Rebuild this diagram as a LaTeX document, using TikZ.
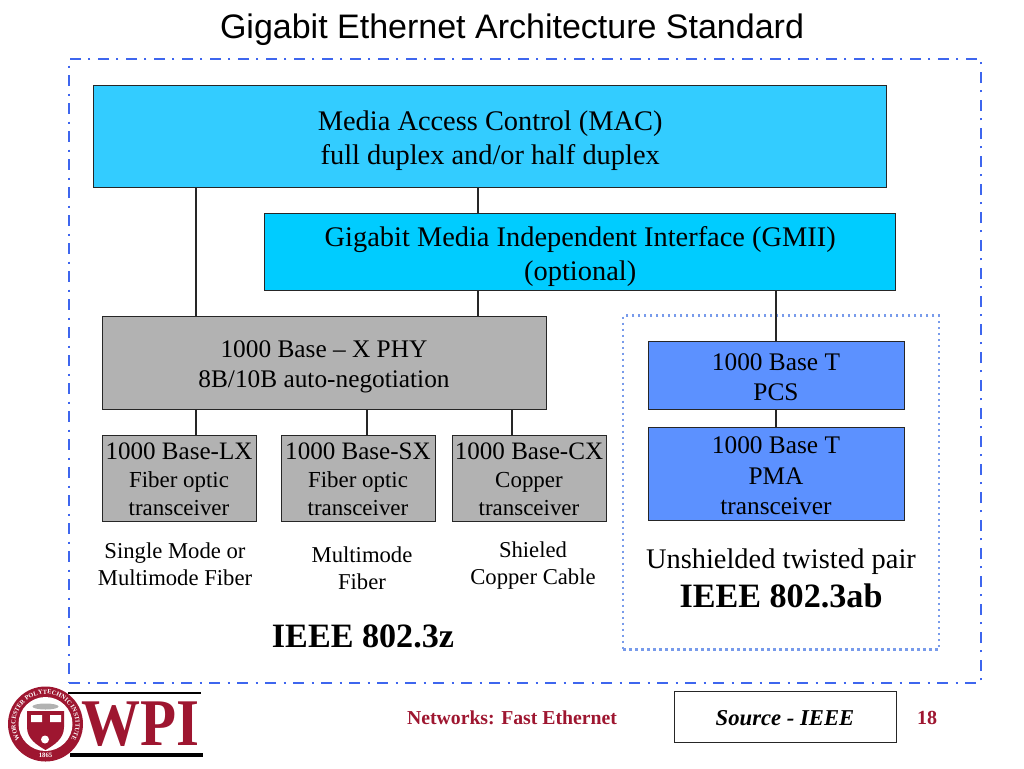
\documentclass[tikz,border=0pt]{standalone}
\usepackage{fontspec}
\setmainfont{Liberation Serif}
\newfontfamily\titlefont{Liberation Sans}
\usetikzlibrary{decorations.text}
\definecolor{macblue}{RGB}{51, 204, 255}
\definecolor{gmiiblue}{RGB}{0, 204, 255}
\definecolor{phygray}{RGB}{178, 178, 178}
\definecolor{tblue}{RGB}{92, 145, 255}
\definecolor{frameblue}{RGB}{62, 102, 238}
\definecolor{dotblue}{RGB}{120, 155, 235}
\definecolor{wpired}{RGB}{158, 22, 48}
\newcommand{\toppad}[1]{\rule{0pt}{#1pt}}
\newcommand{\subline}{\fontsize{17.2}{21}\selectfont}
\tikzset{
  block/.style={
    rectangle, draw=black!85, line width=0.75pt, align=center,
    inner sep=0pt, text=black, font=\fontsize{21.3}{25.5}\selectfont
  },
  macblock/.style={block, fill=macblue},
  gmiiblock/.style={block, fill=gmiiblue},
  phyblock/.style={block, fill=phygray},
  tblock/.style={block, fill=tblue, minimum width=192pt, font=\fontsize{19}{23}\selectfont},
  xcvr/.style={phyblock, minimum width=115.5pt, minimum height=64.5pt, font=\fontsize{18.8}{21}\selectfont},
  caption/.style={align=center, font=\fontsize{17}{20.3}\selectfont},
  ieee/.style={align=center, font=\fontsize{25.6}{30}\selectfont\bfseries},
  link/.style={draw=black!85, line width=1.6pt},
}

\begin{document}
\begin{tikzpicture}[x=0.75pt, y=-0.75pt]
  \useasboundingbox (0,0) rectangle (1024,768);

  % Title
  \node (title) at (512,30) {\titlefont\fontsize{25.5}{30}\selectfont Gigabit Ethernet Architecture Standard};

  % Frames
  \node[draw=frameblue, line width=2pt, dash pattern=on 8pt off 6pt on 2pt off 5pt,
    minimum width=684pt, minimum height=468pt] (outer) at (525,371) {};
  \node[draw=dotblue, line width=2.2pt, dash pattern=on 2pt off 2.5pt,
    minimum width=237pt, minimum height=250pt] (inner) at (781,482.5) {};

  % Nodes
  \node[macblock, minimum width=594.75pt, minimum height=76.5pt] (mac) at (490.2,136)
    {\toppad{22.5}Media Access Control (MAC)\\full duplex and/or half duplex};
  \node[gmiiblock, minimum width=473.25pt, minimum height=57.75pt] (gmii) at (580.2,251.5)
    {\toppad{22.5}Gigabit Media Independent Interface (GMII)\\(optional)};
  \node[phyblock, minimum width=333pt, minimum height=69.75pt, font=\fontsize{19}{23}\selectfont] (phy) at (324,362.5)
    {\toppad{19}1000 Base -- X PHY\\8B/10B auto-negotiation};

  \node[xcvr] (lx) at (179,478) {\toppad{14}1000 Base-LX\\{\subline Fiber optic}\\{\subline transceiver}};
  \node[xcvr] (sx) at (358,478) {\toppad{14}1000 Base-SX\\{\subline Fiber optic}\\{\subline transceiver}};
  \node[xcvr] (cx) at (529,478) {\toppad{14}1000 Base-CX\\{\subline Copper}\\{\subline transceiver}};

  \node[tblock, minimum height=51pt] (pcs) at (776,375) {\toppad{16}1000 Base T\\PCS};
  \node[tblock, minimum height=69.75pt] (pma) at (776,473.5) {\toppad{16}1000 Base T\\PMA\\transceiver};

  % Captions
  \node[caption] (lxcap) at (175,564) {Single Mode or\\Multimode Fiber};
  \node[caption] (sxcap) at (362,568.5) {Multimode\\Fiber};
  \node[caption] (cxcap) at (533,566) {Shieled\\Copper Cable};
  \node[caption, font=\fontsize{21.3}{25}\selectfont] (utp) at (781,561.5) {Unshielded twisted pair};
  \node[ieee] (ab) at (781,596) {IEEE 802.3ab};
  \node[ieee] (z) at (363,636) {IEEE 802.3z};

  % Connectors
  \foreach \a/\b/\x in {mac/phy/196, mac/gmii/478, gmii/phy/478, gmii/pcs/776, pcs/pma/776,
                        phy/lx/196, phy/sx/367, phy/cx/512}{
    \draw[link] (\a.south -| \x,0) -- (\b.north -| \x,0);
  }

  % Footer
  \node[text=wpired, font=\fontsize{14.8}{18}\selectfont\bfseries] (net) at (512,718) {Networks: Fast Ethernet};
  \node[draw=black!85, line width=0.75pt, minimum width=166.5pt, minimum height=38.25pt] (src) at (785,716.5) {};
  \node[font=\fontsize{17}{20}\selectfont\bfseries\itshape] (srctext) at (785,718) {Source - IEEE};
  \node[text=wpired, font=\fontsize{15}{18}\selectfont\bfseries] (pg) at (927,718) {18};

  % Logo
  \draw[black, line width=1.6pt] (68,693) -- (201,693);
  \draw[black, line width=2.4pt] (70,755) -- (203,755);
  \fill[wpired] (45.5,724) circle[radius=37.5];
  \fill[white] (45.5,724) circle[radius=27];
  \path[decorate, decoration={text along path, text align=center,
      text={|\fontsize{4.8}{6}\selectfont\bfseries\color{white}|WORCESTER POLYTECHNIC INSTITUTE}}]
    (24.3,745.2) arc[start angle=135, end angle=405, radius=30];
  \node[text=white, font=\fontsize{5}{6}\selectfont\bfseries] (year) at (45.5,755) {1865};
  \fill[gray!60] (45.5,706.5) ellipse[x radius=13, y radius=3];
  \fill[wpired] (27,711) -- (64,711) -- (64,727) .. controls (64,739) and (54,745) .. (45.5,750)
    .. controls (37,745) and (27,739) .. (27,727) -- cycle;
  \fill[white] (31,715) rectangle (42,722) (50,715) rectangle (61,722);
  \fill[white] (45,739.5) circle[radius=4];
  \node[text=wpired, font=\fontsize{50}{50}\selectfont\bfseries, inner sep=0pt, transform shape, xscale=0.885] (wpi) at (140.5,724) {WPI};
\end{tikzpicture}
\end{document}
